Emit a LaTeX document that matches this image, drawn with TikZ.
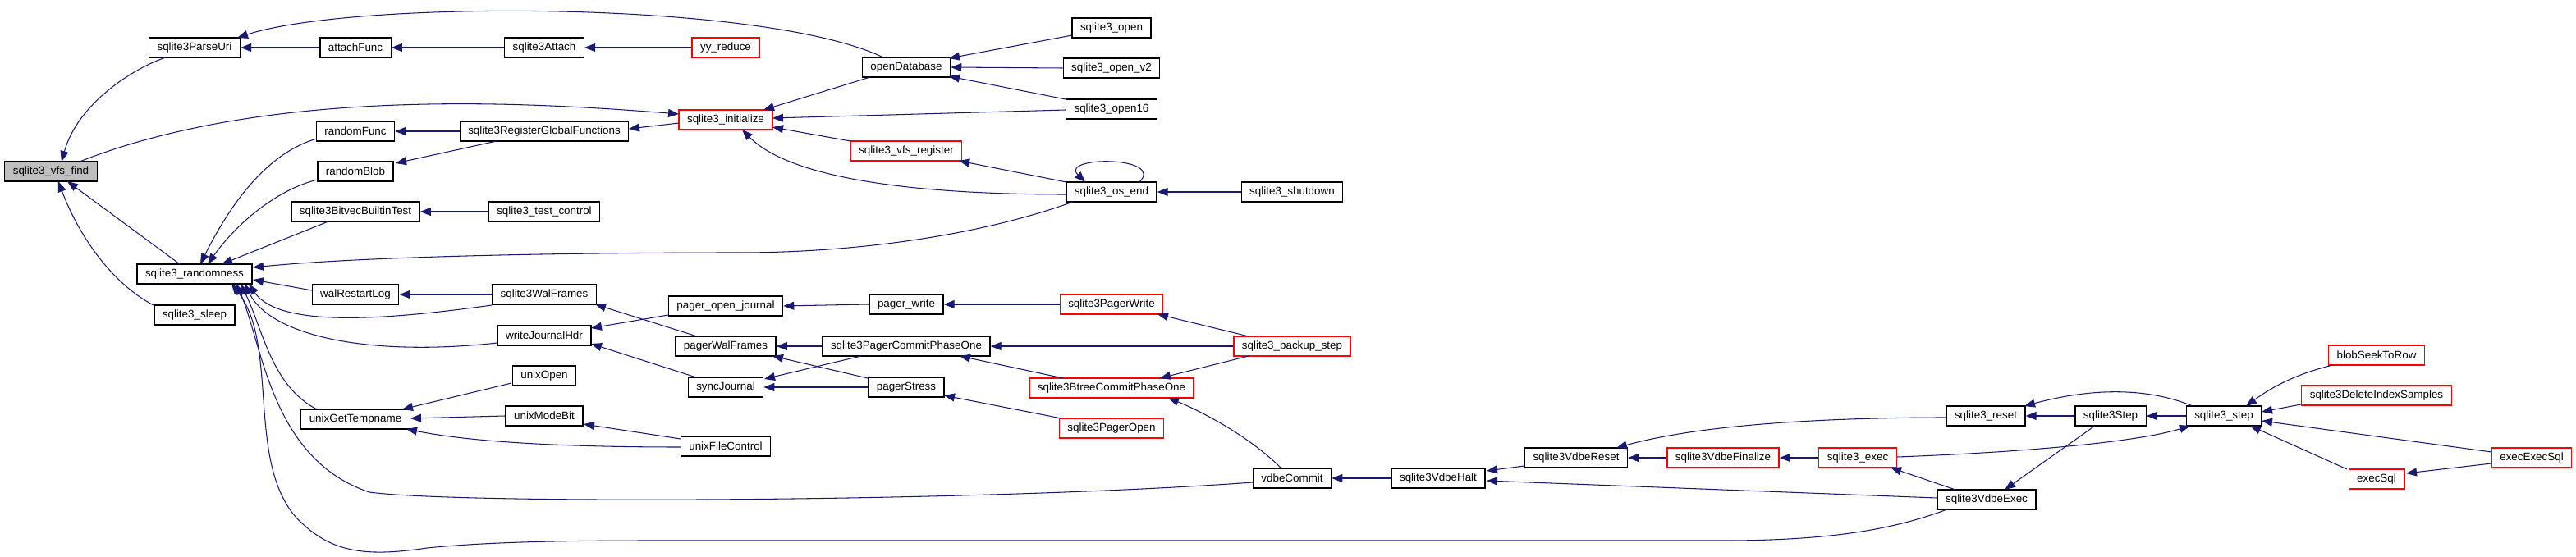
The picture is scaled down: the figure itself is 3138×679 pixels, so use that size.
\documentclass[tikz,border=0pt]{standalone}
\usepackage{fontspec}
\setmainfont{Liberation Sans}
\usetikzlibrary{arrows.meta,calc}
\definecolor{edgecol}{HTML}{191970}
\definecolor{graybg}{HTML}{BFBFBF}
\begin{document}
\begin{tikzpicture}[x=1pt,y=-1pt,
 fn/.style={draw=black, line width=1.3pt, fill=white, minimum height=24pt, inner xsep=10pt, inner ysep=0pt, font=\fontsize{13.4}{16}\selectfont, text=black},
 fnr/.style={fn, draw=red},
 fng/.style={fn, fill=graybg},
 cl/.style={draw=edgecol, line width=1.05pt, {Triangle[length=13pt,width=10pt]}-}]
\useasboundingbox (0,0) rectangle (3138,679);
% nodes
\node[fng] (vf) at (62,209) {sqlite3\_vfs\_find};
\node[fn] (pu) at (237,58) {sqlite3ParseUri};
\node[fn] (af) at (433,58) {attachFunc};
\node[fn] (sa) at (663,58) {sqlite3Attach};
\node[fnr] (yy) at (884,58) {yy\_reduce};
\node[fn] (rf) at (433,160) {randomFunc};
\node[fn] (rgf) at (663,160) {sqlite3RegisterGlobalFunctions};
\node[fn] (rb) at (433,209) {randomBlob};
\node[fn] (bbt) at (433,258) {sqlite3BitvecBuiltinTest};
\node[fn] (tc) at (663,258) {sqlite3\_test\_control};
\node[fn] (rn) at (237,334) {sqlite3\_randomness};
\node[fn] (sl) at (237,384) {sqlite3\_sleep};
\node[fn] (wrl) at (433,359) {walRestartLog};
\node[fn] (wf) at (663,359) {sqlite3WalFrames};
\node[fn] (wjh) at (663,409) {writeJournalHdr};
\node[fn] (uo) at (663,458) {unixOpen};
\node[fn] (ugt) at (433,511) {unixGetTempname};
\node[fn] (umb) at (663,507) {unixModeBit};
\node[fn] (od) at (1104,82) {openDatabase};
\node[fn] (op) at (1354,34) {sqlite3\_open};
\node[fn] (ov2) at (1354,83) {sqlite3\_open\_v2};
\node[fn] (o16) at (1354,133) {sqlite3\_open16};
\node[fnr] (ini) at (884,146) {sqlite3\_initialize};
\node[fnr] (vr) at (1104,184) {sqlite3\_vfs\_register};
\node[fn] (oe) at (1354,234) {sqlite3\_os\_end};
\node[fn] (sd) at (1574,234) {sqlite3\_shutdown};
\node[fn] (poj) at (884,373) {pager\_open\_journal};
\node[fn] (pw) at (1104,371) {pager\_write};
\node[fnr] (spw) at (1354,371) {sqlite3PagerWrite};
\node[fn] (pwf) at (884,422) {pagerWalFrames};
\node[fn] (pcp) at (1104,422) {sqlite3PagerCommitPhaseOne};
\node[fnr] (bs) at (1574,422) {sqlite3\_backup\_step};
\node[fn] (sj) at (884,472) {syncJournal};
\node[fn] (ps) at (1104,472) {pagerStress};
\node[fnr] (bcp) at (1354,473) {sqlite3BtreeCommitPhaseOne};
\node[fnr] (po) at (1354,522) {sqlite3PagerOpen};
\node[fn] (ufc) at (884,544) {unixFileControl};
\node[fn] (vc) at (1574,583) {vdbeCommit};
\node[fn] (vh) at (1752,583) {sqlite3VdbeHalt};
\node[fn] (vrs) at (1920,558) {sqlite3VdbeReset};
\node[fnr] (vfz) at (2099,558) {sqlite3VdbeFinalize};
\node[fnr] (ex) at (2263,558) {sqlite3\_exec};
\node[fn] (rs) at (2419,507) {sqlite3\_reset};
\node[fn] (ve) at (2420,609) {sqlite3VdbeExec};
\node[fn] (s3s) at (2571,507) {sqlite3Step};
\node[fn] (st) at (2709,507) {sqlite3\_step};
\node[fnr] (bsr) at (2895,433) {blobSeekToRow};
\node[fnr] (dis) at (2895,482) {sqlite3DeleteIndexSamples};
\node[fnr] (es) at (2895,584) {execSql};
\node[fnr] (ees) at (3084,558) {execExecSql};
% edges (arrow tip at callee)
\draw[cl] ($(vf)+(13,-12)$) .. controls (95,125) and (165,82) .. ($(pu)+(-35,12)$);
\draw[cl] ($(ini)+(-57,-7)$) .. controls (650,125) and (330,105) .. ($(vf)+(35,-12)$);
\draw[cl] ($(pu)+(52,-12)$) .. controls (430,0) and (930,0) .. ($(od)+(-28,-12)$);
\draw[cl] (pu.east) -- (af.west);
\draw[cl] (af.east) -- (sa.west);
\draw[cl] (sa.east) -- (yy.west);
\draw[cl] ($(vf)+(20,12)$) -- ($(rn)+(-18,-12)$);
\draw[cl] ($(vf)+(9,12)$) .. controls (95,285) and (135,345) .. ($(sl)+(-50,-12)$);
\draw[cl] ($(rn)+(7,-12)$) .. controls (285,240) and (330,185) .. ($(rf)+(-47,9)$);
\draw[cl] ($(rn)+(16,-12)$) .. controls (290,270) and (340,230) .. ($(rb)+(-46,10)$);
\draw[cl] ($(rn)+(33,-12)$) -- ($(bbt)+(-33,12)$);
\draw[cl] ($(rn)+(71,-8)$) .. controls (450,312) and (700,308) .. (900,308) .. controls (1050,308) and (1200,285) .. ($(oe)+(-47,12)$);
\draw[cl] ($(rn)+(71,7)$) -- ($(wrl)+(-53,-5)$);
\draw[cl] ($(rn)+(66,12)$) .. controls (340,400) and (470,390) .. ($(wf)+(-64,13)$);
\draw[cl] ($(rn)+(61,12)$) .. controls (330,410) and (450,435) .. ($(wjh)+(-57,9)$);
\draw[cl] ($(rn)+(56,12)$) .. controls (320,400) and (330,470) .. ($(ugt)+(-47,-12)$);
\draw[cl] ($(rn)+(51,12)$) .. controls (320,420) and (330,560) .. (450,600) .. controls (560,615) and (1200,612) .. ($(vc)+(-48,5)$);
\draw[cl] ($(rn)+(45,12)$) .. controls (340,420) and (300,560) .. (360,630) .. controls (400,672) and (440,680) .. (520,668) .. controls (600,660) and (700,659) .. (800,659) -- (2100,659) .. controls (2250,659) and (2320,640) .. ($(ve)+(-48,12)$);
\draw[cl] (rf.east) -- (rgf.west);
\draw[cl] ($(rb)+(49,-10)$) -- ($(rgf)+(-58,12)$);
\draw[cl] (bbt.east) -- (tc.west);
\draw[cl] ($(rgf)+(103,-3)$) -- ($(ini)+(-57,4)$);
\draw[cl] ($(ini)+(46,-12)$) -- ($(od)+(-44,12)$);
\draw[cl] ($(ini)+(57,-2)$) -- ($(o16)+(-56,1)$);
\draw[cl] ($(ini)+(57,9)$) -- ($(vr)+(-68,-12)$);
\draw[cl] ($(ini)+(20,12)$) .. controls (960,215) and (1100,237) .. ($(oe)+(-55,3)$);
\draw[cl] ($(od)+(52,-11)$) -- ($(op)+(-48,9)$);
\draw[cl] (od.east) -- (ov2.west);
\draw[cl] ($(od)+(52,11)$) -- ($(o16)+(-56,-12)$);
\draw[cl] ($(vr)+(64,12)$) -- ($(oe)+(-55,-12)$);
\draw[cl] ($(oe)+(-32,-12)$) .. controls (1290,190) and (1420,190) .. ($(oe)+(34,-12)$);
\draw[cl] (oe.east) -- (sd.west);
\draw[cl] (wrl.east) -- (wf.west);
\draw[cl] ($(wf)+(62,12)$) -- ($(pwf)+(-35,-12)$);
\draw[cl] ($(wjh)+(57,-9)$) -- ($(poj)+(-70,11)$);
\draw[cl] ($(wjh)+(57,10)$) -- ($(sj)+(-36,-12)$);
\draw[cl] ($(ugt)+(57,-12)$) -- ($(uo)+(-40,9)$);
\draw[cl] ($(ugt)+(67,-1)$) -- ($(umb)+(-48,0)$);
\draw[cl] ($(ugt)+(62,12)$) .. controls (580,540) and (700,545) .. ($(ufc)+(-55,1)$);
\draw[cl] ($(umb)+(48,10)$) -- ($(ufc)+(-55,-9)$);
\draw[cl] (poj.east) -- (pw.west);
\draw[cl] (pw.east) -- (spw.west);
\draw[cl] ($(spw)+(56,12)$) -- ($(bs)+(-53,-12)$);
\draw[cl] (pwf.east) -- (pcp.west);
\draw[cl] ($(pwf)+(57,12)$) -- ($(ps)+(-47,-11)$);
\draw[cl] ($(sj)+(47,-10)$) -- ($(pcp)+(-55,12)$);
\draw[cl] (sj.east) -- (ps.west);
\draw[cl] (pcp.east) -- (bs.west);
\draw[cl] ($(pcp)+(65,12)$) -- ($(bcp)+(-59,-12)$);
\draw[cl] ($(bcp)+(59,-12)$) -- ($(bs)+(-53,12)$);
\draw[cl] ($(ps)+(46,10)$) -- ($(po)+(-61,-12)$);
\draw[cl] ($(bcp)+(69,12)$) .. controls (1460,500) and (1520,530) .. ($(vc)+(-13,-12)$);
\draw[cl] (vc.east) -- (vh.west);
\draw[cl] ($(vh)+(59,-9)$) -- ($(vrs)+(-63,10)$);
\draw[cl] ($(vh)+(59,3)$) -- ($(ve)+(-61,-2)$);
\draw[cl] ($(vrs)+(49,-12)$) .. controls (2080,515) and (2250,509) .. ($(rs)+(-49,2)$);
\draw[cl] (vrs.east) -- (vfz.west);
\draw[cl] (vfz.east) -- (ex.west);
\draw[cl] ($(ex)+(40,12)$) -- ($(ve)+(-38,-12)$);
\draw[cl] ($(st)+(-41,12)$) .. controls (2600,540) and (2450,552) .. ($(ex)+(48,-1)$);
\draw[cl] ($(rs)+(47,-12)$) .. controls (2540,475) and (2610,470) .. ($(st)+(-38,-12)$);
\draw[cl] (rs.east) -- (s3s.west);
\draw[cl] (s3s.east) -- (st.west);
\draw[cl] ($(ve)+(22,-12)$) -- ($(s3s)+(-19,12)$);
\draw[cl] ($(st)+(27,-12)$) .. controls (2770,470) and (2800,455) .. ($(bsr)+(-53,12)$);
\draw[cl] ($(st)+(46,-5)$) -- ($(dis)+(-92,11)$);
\draw[cl] ($(st)+(46,6)$) -- ($(ees)+(-49,-7)$);
\draw[cl] ($(st)+(32,12)$) -- ($(es)+(-36,-12)$);
\draw[cl] ($(es)+(36,-7)$) -- ($(ees)+(-49,7)$);
\end{tikzpicture}
\end{document}
